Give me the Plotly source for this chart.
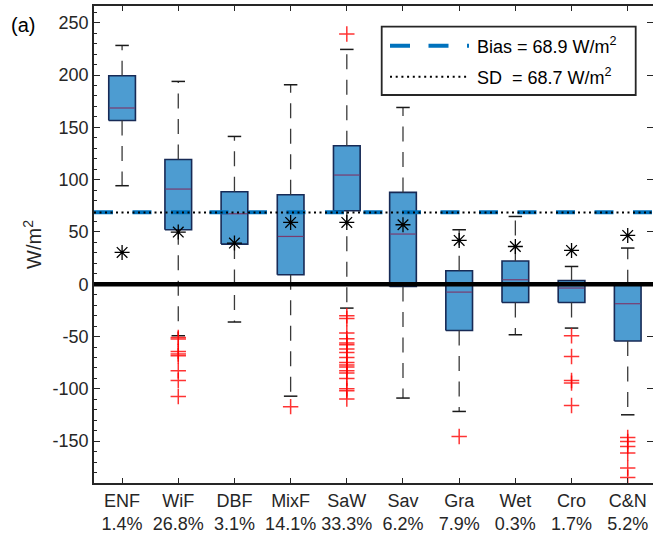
import plotly.graph_objects as go

# ---------------- data ----------------
categories = ["ENF", "WiF", "DBF", "MixF", "SaW", "Sav", "Gra", "Wet", "Cro", "C&N"]
shares = ["1.4%", "26.8%", "3.1%", "14.1%", "33.3%", "6.2%", "7.9%", "0.3%", "1.7%", "5.2%"]

q1 = [156.6, 52.1, 38.4, 9.1, 70.3, -2.1, -44.2, -17.4, -17.4, -54.3]
median = [168.5, 91.0, 67.4, 45.7, 104.4, 48.0, -7.5, 4.3, -3.6, -18.6]
q3 = [199.3, 119.3, 88.4, 85.6, 132.4, 87.8, 12.9, 22.2, 3.6, -0.5]
whisker_lo = [94.2, -49.2, -36.1, -107.0, -22.8, -108.8, -121.6, -48.3, -41.9, -124.8]
whisker_hi = [228.3, 193.9, 141.3, 190.7, 224.5, 169.0, 52.1, 64.8, 17.0, 34.6]
means = [30.4, 49.9, 39.4, 59.1, 59.1, 56.9, 41.9, 36.1, 32.3, 46.7]

outliers = [
    [],
    [-50.8, -52.4, -64.2, -66.7, -68.4, -82.7, -92.0, -107.3],
    [],
    [-117.0],
    [239.3, -30.1, -32.7, -46.7, -52.1, -56.2, -57.8, -62.0, -65.2, -70.0, -74.7,
     -77.3, -79.2, -82.7, -84.9, -90.0, -99.9, -101.8, -109.8],
    [],
    [-145.5],
    [],
    [-49.2, -69.0, -92.0, -94.5, -115.9],
    [-146.4, -150.3, -155.0, -161.4, -175.7, -184.7],
]

bias = 68.9
sd = 68.7

y_tickvals = [-150, -100, -50, 0, 50, 100, 150, 200, 250]
y_ticktext = ["-150", "-100", "-50", "0", "50", "100", "150", "200", "250"]

# ---------------- style ----------------
FONT = "Liberation Sans, Arial, Helvetica, sans-serif"
AX = "#262626"
BOX_FILL = "#4D9CD1"
BOX_EDGE = "#172a56"
MED = "#7a3b6e"
BLUE = "#0072BD"
RED = "rgba(255,0,0,0.8)"
BOX_W = 0.475
CAP_W = 0.24

pos = list(range(1, len(categories) + 1))

fig = go.Figure()

# boxes
for p, a, b in zip(pos, q1, q3):
    fig.add_trace(go.Scatter(
        x=[p - BOX_W / 2, p + BOX_W / 2, p + BOX_W / 2, p - BOX_W / 2, p - BOX_W / 2],
        y=[a, a, b, b, a], mode="lines", fill="toself", fillcolor=BOX_FILL,
        line=dict(color=BOX_EDGE, width=1.6), hoverinfo="skip", showlegend=False))

# medians
mx, my = [], []
for p, m in zip(pos, median):
    mx += [p - BOX_W / 2 + 0.01, p + BOX_W / 2 - 0.01, None]
    my += [m, m, None]
fig.add_trace(go.Scatter(x=mx, y=my, mode="lines", line=dict(color=MED, width=1.2),
                         hoverinfo="skip", showlegend=False))

# whiskers (dashed, from box edge outward)
for p, a, b, lo, hi in zip(pos, q1, q3, whisker_lo, whisker_hi):
    for start, end in ((b, hi), (a, lo)):
        if abs(end - start) > 0.5:
            fig.add_trace(go.Scatter(x=[p, p], y=[start, end], mode="lines",
                                     line=dict(color="#3a3a3a", width=1.3, dash="15px,10.5px"),
                                     hoverinfo="skip", showlegend=False))

# caps
cx, cy = [], []
for p, lo, hi in zip(pos, whisker_lo, whisker_hi):
    for v in (lo, hi):
        cx += [p - CAP_W / 2, p + CAP_W / 2, None]
        cy += [v, v, None]
fig.add_trace(go.Scatter(x=cx, y=cy, mode="lines", line=dict(color="#1a1a1a", width=1.5),
                         hoverinfo="skip", showlegend=False))

# outliers
ox, oy = [], []
for p, vals in zip(pos, outliers):
    for v in vals:
        ox.append(p)
        oy.append(v)
fig.add_trace(go.Scatter(x=ox, y=oy, mode="markers",
                         marker=dict(symbol="cross-thin-open", size=11, color=RED,
                                     line=dict(color=RED, width=1.5)),
                         hoverinfo="skip", showlegend=False))

# means
fig.add_trace(go.Scatter(x=pos, y=means, mode="markers",
                         marker=dict(symbol="asterisk-open", size=12.5, color="black",
                                     line=dict(color="black", width=1.3)),
                         hoverinfo="skip", showlegend=False))

# dummy for right axis ticks
fig.add_trace(go.Scatter(x=[None], y=[None], yaxis="y2", showlegend=False, hoverinfo="skip"))

# ---------------- layout ----------------
W, H = 653, 534
ML, MR, MT, MB = 94, 0, 6, 51
PW, PH = W - ML - MR, H - MT - MB


def px_x(px):
    return (px - ML) / PW


def px_y(py):
    return (H - MB - py) / PH


yr = [-190, 266]

shapes = [
    dict(type="line", xref="paper", x0=0, x1=1, yref="y", y0=0, y1=0,
         line=dict(color="black", width=4.5), layer="above"),
    dict(type="line", xref="paper", x0=0, x1=1, yref="y", y0=bias, y1=bias,
         line=dict(color=BLUE, width=4, dash="19px,19.5px"), layer="above"),
    dict(type="line", xref="paper", x0=0, x1=1, yref="y", y0=sd, y1=sd,
         line=dict(color="black", width=2, dash="2px,3.5px"), layer="above"),
    # legend box
    dict(type="rect", xref="paper", yref="paper", x0=px_x(381.7), x1=px_x(635.7),
         y0=px_y(95), y1=px_y(26.7), fillcolor="white", line=dict(color=AX, width=1.8),
         layer="above"),
    dict(type="line", xref="paper", yref="paper", x0=px_x(390), x1=px_x(469),
         y0=px_y(45.7), y1=px_y(45.7), line=dict(color=BLUE, width=4, dash="20px,18.5px"),
         layer="above"),
    dict(type="line", xref="paper", yref="paper", x0=px_x(390), x1=px_x(469),
         y0=px_y(76.7), y1=px_y(76.7), line=dict(color="black", width=2, dash="2px,3.7px"),
         layer="above"),
]

annotations = [
    dict(xref="paper", yref="paper", x=px_x(475), y=px_y(45.7), xanchor="left", yanchor="middle",
         text=f"Bias = {bias} W/m<sup>2</sup>", showarrow=False,
         font=dict(family=FONT, size=18, color="black")),
    dict(xref="paper", yref="paper", x=px_x(475), y=px_y(76.7), xanchor="left", yanchor="middle",
         text=f"SD\u00a0 = {sd} W/m<sup>2</sup>", showarrow=False,
         font=dict(family=FONT, size=18, color="black")),
    dict(xref="paper", yref="paper", x=px_x(9), y=px_y(25), xanchor="left", yanchor="middle",
         text="(a)", showarrow=False, font=dict(family=FONT, size=20, color="black")),
]

fig.update_layout(
    width=W, height=H,
    margin=dict(l=ML, r=MR, t=MT, b=MB, pad=0, autoexpand=False),
    paper_bgcolor="white", plot_bgcolor="white",
    font=dict(family=FONT, size=18, color=AX),
    shapes=shapes, annotations=annotations,
    showlegend=False,
    xaxis=dict(range=[0.5, 10.45], tickvals=pos, automargin=False,
               ticktext=[f"{c}<br>{s}" for c, s in zip(categories, shares)],
               ticks="inside", ticklen=5, tickwidth=1.3, tickcolor=AX,
               showline=True, linecolor=AX, linewidth=1.8, mirror="ticks",
               showgrid=False, zeroline=False,
               tickfont=dict(family=FONT, size=18, color=AX)),
    yaxis=dict(range=yr, tickvals=y_tickvals, ticktext=y_ticktext, automargin=False,
               ticks="inside", ticklen=6, tickwidth=1.3, tickcolor=AX,
               minor=dict(ticks="inside", dtick=10, ticklen=3, tickwidth=1, tickcolor=AX),
               showline=True, linecolor=AX, linewidth=1.8, mirror=False,
               showgrid=False, zeroline=False,
               tickfont=dict(family=FONT, size=18, color=AX),
               title=dict(text="W/m<sup>2</sup>", standoff=5,
                          font=dict(family=FONT, size=20, color=AX))),
    yaxis2=dict(range=yr, overlaying="y", side="right", tickvals=y_tickvals, automargin=False,
                showticklabels=False, ticks="inside", ticklen=6, tickwidth=1.3,
                tickcolor=AX, showline=False, showgrid=False, zeroline=False),
)

fig.write_html("out.html", config={"displayModeBar": False},
               post_script="document.body.style.margin='0';document.body.style.overflow='hidden';")
